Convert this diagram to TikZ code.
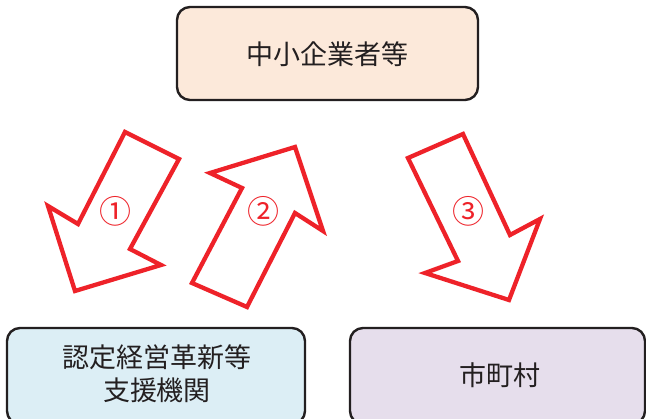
\documentclass[tikz,border=0pt]{standalone}
\usepackage{fontspec}
\setmainfont{Noto Sans CJK JP}
\definecolor{arrred}{HTML}{EE2229}
\definecolor{ink}{HTML}{231F20}
\definecolor{peach}{HTML}{FCE9DA}
\definecolor{paleblue}{HTML}{DCEEF5}
\definecolor{lavender}{HTML}{E6DEEC}
\begin{document}
\begin{tikzpicture}[x=1pt,y=-1pt,
  box/.style={draw=ink,line width=2.4pt,rounded corners=13pt},
  boxtext/.style={text=ink,font=\fontsize{27}{33}\selectfont,align=center},
  bigarrow/.style={draw=arrred,fill=white,line width=4.3pt,line join=miter},
  num/.style={text=arrred,font=\fontsize{32}{32}\selectfont}]
\useasboundingbox (0,0) rectangle (646,419);
\begin{scope}
\clip (0,0) rectangle (646,419);
% boxes
\draw[box,fill=peach] (177,7) rectangle (478,100);
\draw[box,fill=paleblue] (7,328) rectangle (305,424);
\draw[box,fill=lavender] (350,328) rectangle (645,424);
\end{scope}
\node[boxtext] (top) at (327,54) {中小企業者等};
\node[boxtext] (support) at (157,374) {認定経営革新等\\支援機関};
\node[boxtext] (city) at (500,375) {市町村};
% arrow 1
\draw[bigarrow] (125,132) -- (179,159) -- (130,249) -- (161,265) -- (75,291) -- (48,206) -- (78,224) -- cycle;
% arrow 2
\draw[bigarrow] (192,283) -- (247,307) -- (295,213) -- (323,231) -- (295,147) -- (210,173) -- (242,188) -- cycle;
% arrow 3
\draw[bigarrow] (408,158) -- (463,134) -- (510,235) -- (540,219) -- (509,300) -- (425,273) -- (458,261) -- cycle;
\node[num] (n1) at (115,211) {①};
\node[num] (n2) at (263,211) {②};
\node[num] (n3) at (468,211) {③};
\end{tikzpicture}
\end{document}
